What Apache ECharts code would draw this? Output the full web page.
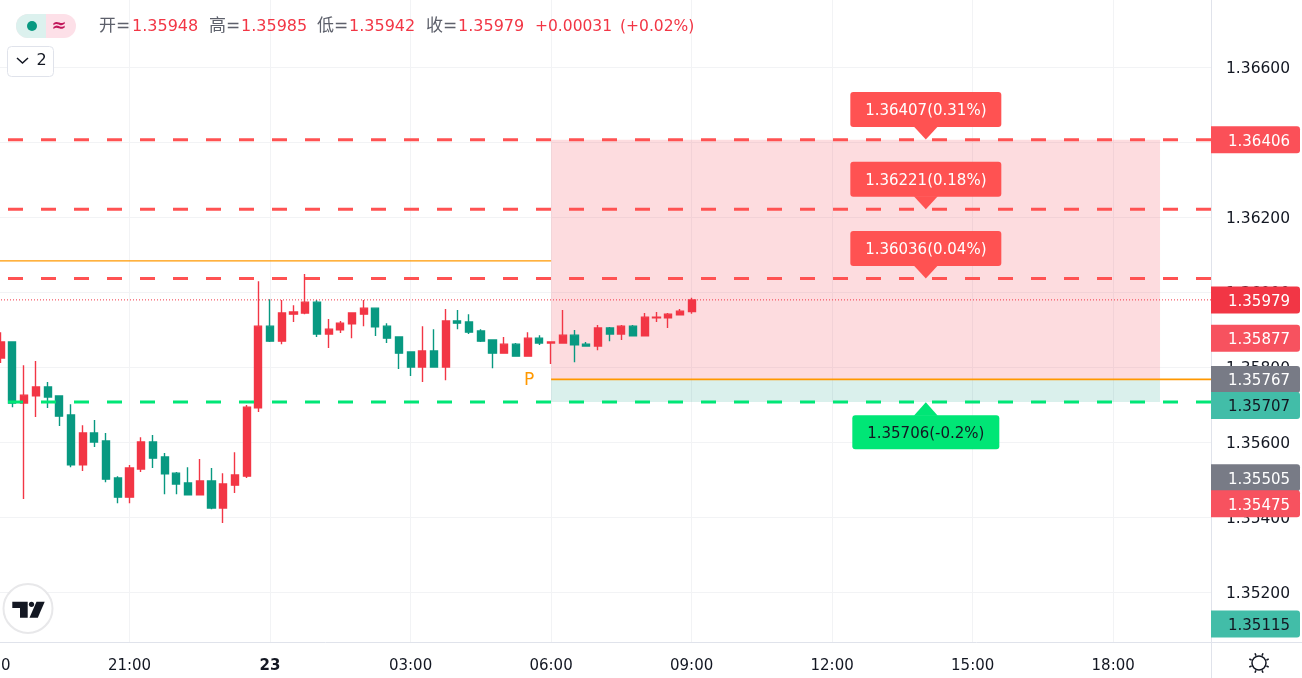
<!DOCTYPE html>
<html><head><meta charset="utf-8">
<style>html,body{margin:0;padding:0;background:#fff}#c{width:1302px;height:678px}</style>
<script src="https://cdn.jsdelivr.net/npm/echarts@6/dist/echarts.min.js"></script>
</head><body><div id="c"></div>
<script>
// ---- data ----
const firstCandleMinute = -345; // 18:15 of the previous day, minutes from 00:00 on the 23rd
const candleStep = 15;
const opens = [1.35824,1.35867,1.35704,1.35723,1.35747,1.35723,1.35672,1.35539,1.35624,1.35603,1.35504,1.35453,1.35528,1.35600,1.35560,1.35517,1.35491,1.35459,1.35496,1.35424,1.35485,1.35509,1.35691,1.35909,1.35869,1.35941,1.35944,1.35973,1.35888,1.35899,1.35915,1.35941,1.35957,1.35909,1.35880,1.35840,1.35800,1.35843,1.35800,1.35923,1.35920,1.35896,1.35872,1.35837,1.35861,1.35829,1.35877,1.35864,1.35864,1.35885,1.35861,1.35856,1.35904,1.35888,1.35909,1.35883,1.35931,1.35931,1.35939,1.35948];
const closes = [1.35867,1.35704,1.35725,1.35747,1.35720,1.35669,1.35539,1.35624,1.35600,1.35501,1.35453,1.35531,1.35600,1.35557,1.35515,1.35488,1.35459,1.35496,1.35424,1.35488,1.35512,1.35693,1.35909,1.35869,1.35944,1.35947,1.35973,1.35888,1.35901,1.35917,1.35944,1.35957,1.35907,1.35877,1.35837,1.35800,1.35843,1.35800,1.35923,1.35917,1.35893,1.35869,1.35837,1.35861,1.35829,1.35877,1.35864,1.35867,1.35885,1.35859,1.35856,1.35904,1.35888,1.35909,1.35883,1.35933,1.35933,1.35941,1.35949,1.35979];
const lows = [1.35811,1.35693,1.35448,1.35667,1.35691,1.35643,1.35533,1.35523,1.35587,1.35493,1.35437,1.35437,1.35520,1.35531,1.35461,1.35461,1.35459,1.35459,1.35421,1.35384,1.35464,1.35504,1.35680,1.35867,1.35861,1.35920,1.35941,1.35880,1.35851,1.35891,1.35877,1.35909,1.35883,1.35864,1.35795,1.35776,1.35760,1.35800,1.35765,1.35901,1.35888,1.35867,1.35797,1.35837,1.35829,1.35829,1.35859,1.35808,1.35864,1.35813,1.35856,1.35845,1.35869,1.35872,1.35883,1.35883,1.35920,1.35904,1.35939,1.35942];
const highs = [1.35893,1.35867,1.35805,1.35816,1.35760,1.35723,1.35701,1.35645,1.35659,1.35624,1.35509,1.35539,1.35613,1.35619,1.35571,1.35520,1.35533,1.35555,1.35531,1.35517,1.35573,1.35699,1.36029,1.35981,1.35979,1.35965,1.36048,1.35979,1.35928,1.35923,1.35944,1.35979,1.35957,1.35917,1.35880,1.35840,1.35909,1.35901,1.35955,1.35952,1.35941,1.35901,1.35872,1.35880,1.35864,1.35893,1.35885,1.35867,1.35952,1.35899,1.35867,1.35912,1.35907,1.35912,1.35912,1.35944,1.35947,1.35944,1.35955,1.35985];

const priceTicks = [1.352,1.354,1.356,1.358,1.360,1.362,1.364,1.366];

const tagPrices = [1.36406,1.35979,1.35877,1.35767,1.35707,1.35505,1.35475,1.35115];
const tagKinds  = ['target','last','stop','gray','teal','gray','stop','teal'];

const targetPrices = [1.36407,1.36221,1.36036];
const targetPercents = ['0.31%','0.18%','0.04%'];
const stopPrice = 1.35706;
const stopPercent = '-0.2%';
const calloutMinute = 840;

const zoneStartMinute = 360, zoneEndMinute = 1140;
const zoneTop = 1.36406, entryPrice = 1.35767, zoneBottom = 1.35707;
const dashedRed = [1.36406,1.36221,1.36036];
const dashedGreen = 1.35707;
const lastPrice = 1.35979;
const orangePrior = 1.36083;
const pivotLabelMinute = 332;

const headerLabels = ['开=','高=','低=','收='];
const headerValues = ['1.35948','1.35985','1.35942','1.35979'];
const headerChange = '+0.00031';
const headerChangePct = '(+0.02%)';

// ---- rendering ----
const FONT = '"DejaVu Sans", sans-serif';
const CJK = '"DejaVu Sans", "Noto Sans CJK SC", sans-serif';
const UP = '#f23645', DOWN = '#089981', RED = '#ff5252', TEXT = '#131722', GRID = '#f2f3f5', BORDER = '#e0e3eb';
const xMin = -360, xMax = 1205.3, yMin = 1.350667, yMax = 1.367787;
const tagColor = {target:'#fb5058', last:UP, stop:'#f7525f', gray:'#787b86', teal:'#42bda8'};
const tagText = {target:'#fff', last:'#fff', stop:'#fff', gray:'#fff', teal:TEXT};

const candles = opens.map((o,i)=>[firstCandleMinute+i*candleStep,o,closes[i],lows[i],highs[i]]);

function hline(p, x0, x1, color, width, dash, offset, z){
  return {type:'line', data:[[x0,p],[x1,p]], symbol:'none', silent:true, animation:false, z:z||3,
    lineStyle:{color, width, type:dash||'solid', dashOffset:offset||0}};
}

let prevTagY = null;
const MIN_TAG_GAP = 26;
function renderTag(params, api){
  const price = api.value(0), kind = tagKinds[params.dataIndex];
  let y = api.coord([0,price])[1];
  if(params.dataIndex===0) prevTagY = null;
  if(prevTagY!==null && y-prevTagY<MIN_TAG_GAP) y = prevTagY+MIN_TAG_GAP;
  prevTagY = y;
  return {type:'group', children:[
    {type:'rect', shape:{x:1211,y:y-13.5,width:89,height:27,r:[0,3,3,0]}, style:{fill:tagColor[kind]}},
    {type:'text', x:1228, y:y+2, style:{text:price.toFixed(5), fill:tagText[kind], font:'15px '+FONT, textAlign:'left', textVerticalAlign:'middle'}}
  ]};
}

function renderCallout(params, api){
  const price = api.value(0), up = api.value(1)>0, label = api.value(2);
  const c = api.coord([calloutMinute,price]);
  const x = c[0], tip = c[1];
  const w = up?151:147, h = up?35:34, gap = up?12.4:13;
  const top = up ? tip-gap-h : tip+gap;
  const base = up ? tip-gap-0.5 : tip+gap+0.5;
  const fill = up?RED:'#00e676';
  return {type:'group', children:[
    {type:'rect', shape:{x:x-w/2,y:top,width:w,height:h,r:3}, style:{fill}},
    {type:'polygon', shape:{points:[[x-12,base],[x+12,base],[x,tip]]}, style:{fill}},
    {type:'text', x, y:top+h/2+1.5, style:{text:label, fill:up?'#fff':TEXT, font:'15px '+FONT, textAlign:'center', textVerticalAlign:'middle'}}
  ]};
}

function renderZone(params, api){
  const a = api.coord([api.value(0),api.value(2)]), b = api.coord([api.value(1),api.value(3)]);
  return {type:'rect', shape:{x:a[0],y:a[1],width:b[0]-a[0],height:b[1]-a[1]},
    style:{fill: params.dataIndex===0?'rgba(247,82,95,0.2)':'rgba(8,153,129,0.15)'}};
}

function clock(v){
  const m = ((v%1440)+1440)%1440;
  return String(Math.floor(m/60)).padStart(2,'0')+':'+String(m%60).padStart(2,'0');
}

const headerXs = [[99,132],[209,241],[317,349],[426,458]];
const headerGraphics = [];
headerLabels.forEach((t,i)=>{
  headerGraphics.push({type:'text', z:100, x:headerXs[i][0], y:27, style:{text:t, fill:'#5d606b', font:'17px '+CJK, textVerticalAlign:'middle'}});
  headerGraphics.push({type:'text', z:100, x:headerXs[i][1], y:27, style:{text:headerValues[i], fill:UP, font:'16px '+FONT, textVerticalAlign:'middle'}});
});
headerGraphics.push({type:'text', z:100, x:535, y:27, style:{text:headerChange, fill:UP, font:'15.5px '+FONT, textVerticalAlign:'middle'}});
headerGraphics.push({type:'text', z:100, x:620, y:27, style:{text:headerChangePct, fill:UP, font:'15.5px '+FONT, textVerticalAlign:'middle'}});

const rays = [];
for(let i=0;i<8;i++){
  const a = i*Math.PI/4+Math.PI/8;
  rays.push({type:'line', z:100, shape:{x1:1259+8*Math.cos(a),y1:663+8*Math.sin(a),x2:1259+10.5*Math.cos(a),y2:663+10.5*Math.sin(a)}, style:{stroke:TEXT,lineWidth:1.5}});
}

const chart = echarts.init(document.getElementById('c'),null,{renderer:'canvas'});
chart.setOption({
  animation:false,
  backgroundColor:'#fff',
  grid:{left:-11, width:1222, top:0, height:642, containLabel:false, outerBoundsMode:'none'},
  xAxis:{type:'value', min:xMin, max:xMax, interval:180, scale:true,
    axisLine:{show:false}, axisTick:{show:false},
    splitLine:{show:true, lineStyle:{color:GRID,width:1}},
    axisLabel:{show:true, color:TEXT, fontFamily:FONT, fontSize:15, margin:17, showMinLabel:true, showMaxLabel:false,
      formatter:v=> v%180!==0 ? '' : (v===0 ? '{b|23}' : clock(v)),
      rich:{b:{fontWeight:'bold',fontFamily:FONT,fontSize:15,color:TEXT}}}},
  yAxis:{type:'value', position:'right', min:yMin, max:yMax, scale:true,
    axisLine:{show:false}, axisTick:{show:false, customValues:priceTicks},
    splitLine:{show:true, lineStyle:{color:GRID,width:1}},
    axisLabel:{customValues:priceTicks, color:TEXT, fontFamily:FONT, fontSize:15.5, margin:15, align:'left',
      formatter:v=>'{a|'+v.toFixed(5)+'}',
      rich:{a:{color:TEXT,fontFamily:FONT,fontSize:15.5,padding:[4,0,0,0],lineHeight:18}}}},
  series:[
    {type:'custom', silent:true, z:1, renderItem:renderZone, encode:{x:[0,1],y:[2,3]},
      data:[[zoneStartMinute,zoneEndMinute,zoneTop,entryPrice],[zoneStartMinute,zoneEndMinute,entryPrice,zoneBottom]]},
    {type:'candlestick', silent:true, z:2, barWidth:7.6, data:candles,
      itemStyle:{color:UP,color0:DOWN,borderColor:UP,borderColor0:DOWN,borderWidth:1.4}},
    ...dashedRed.map(p=>hline(p,xMin,xMax,RED,3,[15,18],14)),
    hline(dashedGreen,xMin,xMax,'#00e676',3,[15,18],14),
    hline(lastPrice,xMin,xMax,UP,1,[1,2],0),
    hline(orangePrior,xMin,zoneStartMinute,'#ff9800',1.3),
    hline(entryPrice,zoneStartMinute,xMax,'#ff9800',1.6),
    {type:'custom', silent:true, z:4, encode:{x:0,y:1}, data:[[pivotLabelMinute,entryPrice]],
      renderItem:(p,api)=>{const c=api.coord([api.value(0),api.value(1)]);
        return {type:'text',x:c[0],y:c[1]+1,style:{text:'P',fill:'#ff9800',font:'17px '+FONT,textAlign:'center',textVerticalAlign:'middle'}};}},
    {type:'custom', silent:true, z:5, renderItem:renderCallout, encode:{y:0},
      data:[...targetPrices.map((p,i)=>[p,1,p.toFixed(5)+'('+targetPercents[i]+')']),[stopPrice,-1,stopPrice.toFixed(5)+'('+stopPercent+')']],
      dimensions:[{name:'p',type:'number'},{name:'d',type:'number'},{name:'t',type:'ordinal'}]},
    {type:'custom', silent:true, z:6, renderItem:renderTag, encode:{y:0}, data:tagPrices.map(p=>[p])}
  ],
  graphic:{elements:[
    {type:'line', z:1, shape:{x1:0,y1:642.5,x2:1302,y2:642.5}, style:{stroke:BORDER,lineWidth:1}},
    {type:'line', z:1, shape:{x1:1211.5,y1:0,x2:1211.5,y2:678}, style:{stroke:BORDER,lineWidth:1}},
    {type:'rect', z:100, shape:{x:16,y:14,width:60,height:24,r:12}, style:{fill:'#fde0e8'}},
    {type:'rect', z:101, shape:{x:16,y:14,width:30,height:24,r:[12,0,0,12]}, style:{fill:'#dcf1ee'}},
    {type:'circle', z:102, shape:{cx:32,cy:26,r:5}, style:{fill:DOWN}},
    {type:'text', z:102, x:59, y:26, style:{text:'≈', fill:'#c2185b', font:'bold 18px '+FONT, textAlign:'center', textVerticalAlign:'middle'}},
    ...headerGraphics,
    {type:'rect', z:100, shape:{x:7.5,y:46.5,width:46,height:30,r:4}, style:{fill:'#fff',stroke:BORDER,lineWidth:1}},
    {type:'polyline', z:101, shape:{points:[[17,58],[22.5,63],[28,58]]}, style:{stroke:TEXT,lineWidth:1.5,fill:null}},
    {type:'text', z:101, x:41.5, y:61, style:{text:'2', fill:TEXT, font:'16px '+FONT, textAlign:'center', textVerticalAlign:'middle'}},
    {type:'circle', z:100, shape:{cx:28,cy:608.5,r:24.5}, style:{fill:'#fff',stroke:'#e8e8ea',lineWidth:2}},
    {type:'polygon', z:101, shape:{points:[[12.3,601.7],[27.7,601.7],[27.7,617.7],[20,617.7],[20,608],[12.3,608]]}, style:{fill:TEXT}},
    {type:'circle', z:101, shape:{cx:31.5,cy:604.3,r:2.6}, style:{fill:TEXT}},
    {type:'polygon', z:101, shape:{points:[[36.5,601.7],[44.7,601.7],[37.8,617.7],[29.5,617.7]]}, style:{fill:TEXT}},
    {type:'circle', z:100, shape:{cx:1259,cy:663,r:7}, style:{fill:'#fff',stroke:TEXT,lineWidth:1.5}},
    ...rays
  ]}
});
</script></body></html>
